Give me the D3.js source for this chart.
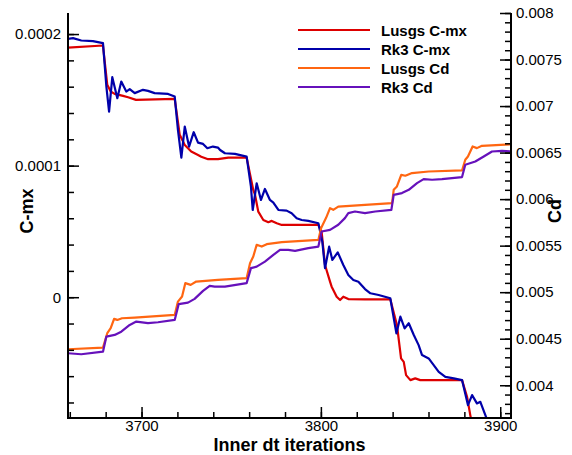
<!DOCTYPE html>
<html>
<head>
<meta charset="utf-8">
<script src="https://cdn.jsdelivr.net/npm/d3@7"></script>
<style>
  html, body { margin: 0; padding: 0; background: #fff; }
  text { font-family: "Liberation Sans", Arial, sans-serif; }
</style>
</head>
<body>
<div class="chart"></div>
<script>
// [iteration, value] pairs
let lusgsCmx = [
  [3659, 1.897e-4], [3678.5, 1.913e-4], [3680.9, 1.614e-4], [3682.8, 1.563e-4], [3685.0, 1.545e-4],
  [3689.7, 1.530e-4], [3692.5, 1.520e-4], [3696.9, 1.500e-4], [3718.5, 1.507e-4], [3721.3, 1.234e-4],
  [3724.1, 1.157e-4], [3727.7, 1.107e-4], [3731.5, 1.081e-4], [3733.3, 1.068e-4], [3737.1, 1.049e-4],
  [3742.6, 1.049e-4], [3748.4, 1.061e-4], [3758.6, 1.061e-4], [3762.3, 0.815e-4], [3763.3, 0.777e-4],
  [3765.1, 0.650e-4], [3767.9, 0.587e-4], [3770.7, 0.570e-4], [3772.6, 0.580e-4], [3775.4, 0.562e-4],
  [3778.2, 0.549e-4], [3798.6, 0.549e-4], [3800.4, 0.498e-4], [3802.3, 0.245e-4], [3805.1, 0.118e-4],
  [3806.0, 0.080e-4], [3808.8, 0.004e-4], [3810.7, -0.021e-4], [3812.5, 0.004e-4], [3815.3, -0.014e-4],
  [3824.6, -0.016e-4], [3838.7, -0.016e-4], [3842.4, -0.211e-4], [3844.7, -0.465e-4], [3846.2, -0.491e-4],
  [3847.5, -0.592e-4], [3849.9, -0.630e-4], [3852.6, -0.617e-4], [3855.4, -0.630e-4], [3878.7, -0.630e-4],
  [3881.5, -0.757e-4], [3883.3, -0.896e-4], [3885.0, -1.01e-4]
];

let rk3Cmx = [
  [3659, 1.964e-4], [3661.8, 1.969e-4], [3666.4, 1.951e-4], [3672.9, 1.946e-4], [3678.5, 1.931e-4],
  [3680.4, 1.601e-4], [3681.9, 1.411e-4], [3683.7, 1.672e-4], [3686.5, 1.513e-4], [3688.7, 1.639e-4],
  [3691.5, 1.563e-4], [3693.4, 1.581e-4], [3696.2, 1.551e-4], [3700.8, 1.576e-4], [3703.6, 1.568e-4],
  [3707.3, 1.551e-4], [3714.8, 1.545e-4], [3718.5, 1.525e-4], [3720.3, 1.272e-4], [3722.2, 1.061e-4],
  [3724.1, 1.297e-4], [3726.5, 1.145e-4], [3729.1, 1.254e-4], [3731.5, 1.175e-4], [3734.3, 1.165e-4],
  [3736.7, 1.132e-4], [3739.8, 1.145e-4], [3742.6, 1.137e-4], [3743.8, 1.119e-4], [3746.5, 1.094e-4],
  [3752.1, 1.089e-4], [3758.6, 1.068e-4], [3761.0, 0.840e-4], [3762.0, 0.663e-4], [3764.2, 0.866e-4],
  [3766.6, 0.739e-4], [3768.8, 0.823e-4], [3771.6, 0.739e-4], [3773.5, 0.719e-4], [3776.3, 0.663e-4],
  [3780.9, 0.658e-4], [3783.7, 0.638e-4], [3786.5, 0.600e-4], [3789.3, 0.587e-4], [3793.0, 0.580e-4],
  [3798.6, 0.562e-4], [3800.8, 0.422e-4], [3802.3, 0.220e-4], [3804.6, 0.384e-4], [3806.4, 0.283e-4],
  [3809.4, 0.341e-4], [3812.5, 0.245e-4], [3815.3, 0.169e-4], [3818.1, 0.131e-4], [3820.9, 0.118e-4],
  [3824.6, 0.062e-4], [3827.6, 0.030e-4], [3832.2, 0.017e-4], [3838.7, -0.008e-4], [3842.1, -0.275e-4],
  [3844.3, -0.148e-4], [3846.7, -0.237e-4], [3849.0, -0.198e-4], [3851.8, -0.287e-4], [3854.5, -0.364e-4],
  [3856.4, -0.440e-4], [3860.1, -0.465e-4], [3865.7, -0.567e-4], [3869.4, -0.605e-4], [3874.1, -0.617e-4],
  [3878.7, -0.630e-4], [3882.0, -0.820e-4], [3884.3, -0.744e-4], [3887.0, -0.807e-4], [3888.9, -0.795e-4],
  [3891.7, -0.896e-4], [3893.7, -0.972e-4]
];

let lusgsCd = [
  [3659, 0.004387], [3678.5, 0.004404], [3680.9, 0.004559], [3682.8, 0.004613], [3684.7, 0.004713],
  [3686.5, 0.004702], [3689.1, 0.004720], [3696.2, 0.004727], [3718.5, 0.004756], [3720.3, 0.004899],
  [3722.6, 0.004953], [3724.4, 0.005097], [3727.4, 0.005079], [3730.5, 0.005114], [3742.6, 0.005132],
  [3758.6, 0.005151], [3760.5, 0.005312], [3762.3, 0.005383], [3764.2, 0.005509], [3767.0, 0.005490],
  [3769.8, 0.005516], [3778.2, 0.005538], [3798.6, 0.005562], [3800.1, 0.005688], [3802.9, 0.005799],
  [3805.1, 0.005903], [3806.9, 0.005885], [3809.7, 0.005920], [3824.6, 0.005939], [3839.7, 0.005957],
  [3840.6, 0.006100], [3842.4, 0.006136], [3844.8, 0.006261], [3847.1, 0.006251], [3850.8, 0.006280],
  [3860.1, 0.006297], [3878.7, 0.006308], [3880.5, 0.006423], [3882.0, 0.006458], [3884.6, 0.006566],
  [3887.0, 0.006548], [3889.8, 0.006573], [3906.0, 0.006589]
];

let rk3Cd = [
  [3659, 0.004344], [3666.4, 0.004333], [3678.5, 0.004361], [3680.4, 0.004523], [3685.0, 0.004541],
  [3688.7, 0.004576], [3693.4, 0.004648], [3697.1, 0.004684], [3703.6, 0.004667], [3709.2, 0.004677],
  [3718.5, 0.004702], [3720.7, 0.004871], [3725.9, 0.004888], [3729.6, 0.004928], [3734.3, 0.005014],
  [3738.0, 0.005068], [3740.8, 0.005060], [3746.5, 0.005060], [3758.6, 0.005097], [3761.0, 0.005258],
  [3764.2, 0.005275], [3768.8, 0.005329], [3773.5, 0.005401], [3777.2, 0.005455], [3781.8, 0.005455],
  [3785.6, 0.005444], [3793.0, 0.005473], [3798.6, 0.005490], [3800.4, 0.005652], [3805.1, 0.005670],
  [3809.7, 0.005724], [3813.4, 0.005796], [3815.3, 0.005850], [3819.0, 0.005867], [3824.6, 0.005850],
  [3830.3, 0.005867], [3839.3, 0.005885], [3840.6, 0.006046], [3845.2, 0.006065], [3849.0, 0.006100],
  [3853.6, 0.006172], [3857.3, 0.006215], [3862.0, 0.006208], [3867.5, 0.006215], [3878.7, 0.006237],
  [3880.5, 0.006369], [3886.1, 0.006404], [3890.8, 0.006458], [3895.4, 0.006512], [3901.0, 0.006519],
  [3906.0, 0.006512]
];

let legendLabels = ["Lusgs C-mx", "Rk3 C-mx", "Lusgs Cd", "Rk3 Cd"];
let xMajorTicks = [3700, 3800, 3900];
let xMinorTicks = d3.range(3660, 3901, 20);
let cmxMajorTicks = [0, 0.0001, 0.0002];
let cmxMajorLabels = ["0", "0.0001", "0.0002"];
let cmxMinorTicks = d3.range(-8, 21, 2).map(d => d * 1e-5);
let cdMajorTicks = [0.004, 0.0045, 0.005, 0.0055, 0.006, 0.0065, 0.007, 0.0075, 0.008];
let cdMajorLabels = ["0.004", "0.0045", "0.005", "0.0055", "0.006", "0.0065", "0.007", "0.0075", "0.008"];
let cdMinorTicks = d3.range(37, 81).map(d => d * 1e-4);

let colors = ["#dd0000", "#0000aa", "#ff6611", "#6611bb"];

let W = 572, H = 455;
let margin = { left: 68, right: 511, top: 13, bottom: 418 };

let x = d3.scaleLinear().domain([3659, 3906]).range([margin.left, margin.right]);
let yL = d3.scaleLinear().domain([-0.0000918, 0.000216]).range([margin.bottom, margin.top]);
let yR = d3.scaleLinear().domain([0.003648, 0.008]).range([margin.bottom, margin.top]);

let svg = d3.select(".chart").append("svg")
  .attr("width", W)
  .attr("height", H);

svg.append("clipPath").attr("id", "plot")
  .append("rect")
  .attr("x", margin.left).attr("y", margin.top)
  .attr("width", margin.right - margin.left).attr("height", margin.bottom - margin.top);

function createLine(data, yScale, color) {
  let line = d3.line()
    .x(d => x(d[0]))
    .y(d => yScale(d[1]));
  svg.append("path")
    .datum(data)
    .attr("clip-path", "url(#plot)")
    .attr("style", `stroke: ${color}; stroke-width: 2.2px; fill: none; stroke-linejoin: round;`)
    .attr("d", line);
}

createLine(lusgsCmx, yL, colors[0]);
createLine(rk3Cmx, yL, colors[1]);
createLine(lusgsCd, yR, colors[2]);
createLine(rk3Cd, yR, colors[3]);

function styleAxis(g) {
  g.select(".domain").remove();
  g.selectAll(".tick line").attr("stroke", "#000").attr("stroke-width", 1.5);
  g.selectAll(".tick text").attr("fill", "#000").style("font-size", "15px")
    .style("font-family", "'Liberation Sans', Arial, sans-serif");
}

// minor ticks first, majors on top
svg.append("g").attr("transform", `translate(0,${margin.bottom})`)
  .call(d3.axisBottom(x).tickValues(xMinorTicks).tickSize(-6).tickFormat(""))
  .call(styleAxis);
svg.append("g").attr("transform", `translate(0,${margin.bottom})`)
  .call(d3.axisBottom(x).tickValues(xMajorTicks).tickSize(-11).tickPadding(2).tickFormat(d3.format("d")))
  .call(styleAxis);

svg.append("g").attr("transform", `translate(${margin.left},0)`)
  .call(d3.axisLeft(yL).tickValues(cmxMinorTicks).tickSize(-6).tickFormat(""))
  .call(styleAxis);
svg.append("g").attr("transform", `translate(${margin.left},0)`)
  .call(d3.axisLeft(yL).tickValues(cmxMajorTicks).tickSize(-11).tickPadding(7)
    .tickFormat((d, i) => cmxMajorLabels[i]))
  .call(styleAxis);

svg.append("g").attr("transform", `translate(${margin.right},0)`)
  .call(d3.axisRight(yR).tickValues(cdMinorTicks).tickSize(-6).tickFormat(""))
  .call(styleAxis);
svg.append("g").attr("transform", `translate(${margin.right},0)`)
  .call(d3.axisRight(yR).tickValues(cdMajorTicks).tickSize(-11).tickPadding(5)
    .tickFormat((d, i) => cdMajorLabels[i]))
  .call(styleAxis);

// axis lines
svg.append("path")
  .attr("d", `M${margin.left},${margin.top}V${margin.bottom}H${margin.right}V${margin.top}`)
  .attr("style", "stroke: #000; stroke-width: 2px; fill: none;");

// axis titles
svg.append("text")
  .attr("x", (margin.left + margin.right) / 2).attr("y", 451)
  .attr("text-anchor", "middle")
  .style("font-size", "18px").style("font-weight", "bold")
  .text("Inner dt iterations");

svg.append("text")
  .attr("transform", "translate(33,211) rotate(-90)")
  .attr("text-anchor", "middle")
  .style("font-size", "18px").style("font-weight", "bold")
  .text("C-mx");

svg.append("text")
  .attr("transform", "translate(561,211) rotate(-90)")
  .attr("text-anchor", "middle")
  .style("font-size", "18px").style("font-weight", "bold")
  .text("Cd");

// legend
let legend = svg.append("g");
legendLabels.forEach((label, i) => {
  let ly = 30 + i * 19;
  legend.append("line")
    .attr("x1", 298).attr("x2", 370)
    .attr("y1", ly).attr("y2", ly)
    .attr("stroke", colors[i]).attr("stroke-width", 2);
  legend.append("text")
    .attr("x", 381).attr("y", ly + 5.5)
    .style("font-size", "15px").style("font-weight", "bold")
    .text(label);
});
</script>
</body>
</html>
